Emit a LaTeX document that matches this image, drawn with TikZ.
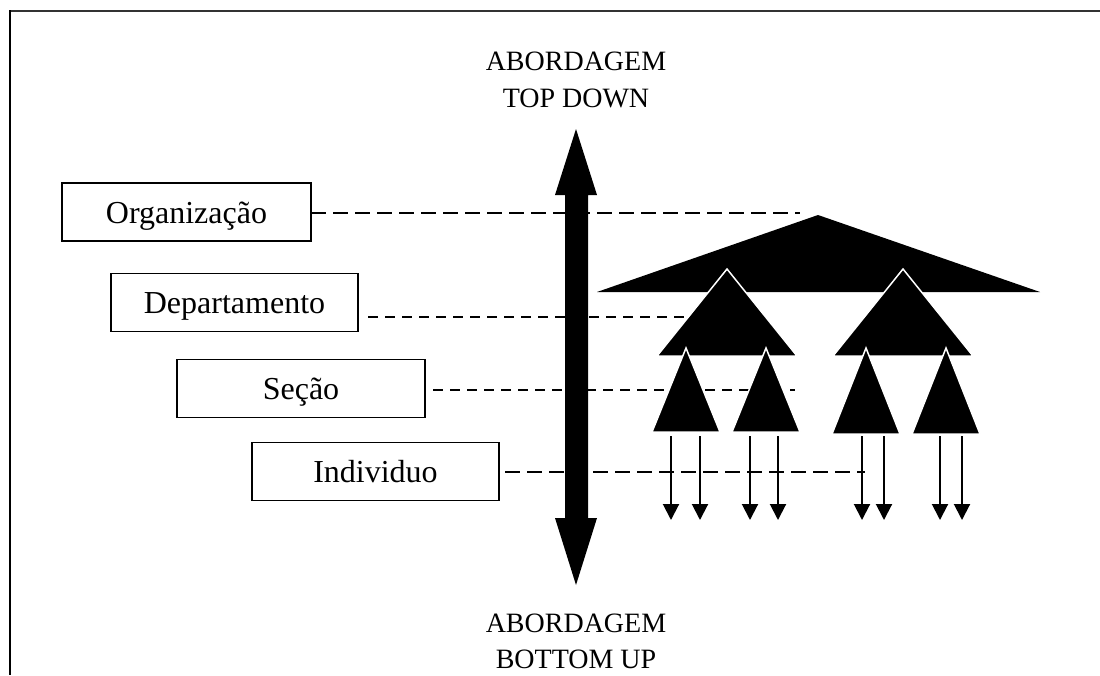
\documentclass[tikz,border=0pt]{standalone}
\usepackage{fontspec}
\setmainfont{Liberation Serif}
\usetikzlibrary{arrows.meta}
\begin{document}
\begin{tikzpicture}[x=1pt,y=-1pt,
  levelbox/.style={draw,line width=1.3pt,minimum width=#1,minimum height=58pt,inner sep=0pt,
    text height=22pt,text depth=0pt,font=\fontsize{32}{38}\selectfont},
  heading/.style={anchor=base,inner sep=0pt,font=\fontsize{28}{34}\selectfont},
  longdash/.style={line width=1.4pt,dash pattern=on 15pt off 7pt},
  shortdash/.style={line width=1.4pt,dash pattern=on 10pt off 7pt},
  blk/.style={fill=black,draw=white,line width=1.5pt,line join=miter},
  downarrow/.style={line width=2pt,-{Triangle[length=16pt,width=16pt]}}]
\useasboundingbox (0,0) rectangle (1100,675);
% frame (top and left edges)
\draw[line width=2pt,black!80] (9,11) -- (1100,11);
\draw[line width=2.5pt] (10,10) -- (10,675);
% headings
\node[heading] (td1) at (576,70) {ABORDAGEM};
\node[heading] (td2) at (576,107) {TOP DOWN};
\node[heading] (bu1) at (576,632) {ABORDAGEM};
\node[heading] (bu2) at (576,668) {BOTTOM UP};
% double arrow
\fill (576,129) -- (597,195) -- (588,195) -- (588,518) -- (597,518) -- (576,585)
  -- (555,518) -- (565,518) -- (565,195) -- (555,195) -- cycle;
% boxes
\node[levelbox=249pt] (org) at (186.5,212) {Organização};
\node[levelbox=247pt] (dep) at (234.5,302.5) {Departamento};
\node[levelbox=248pt] (sec) at (301,388.5) {Seção};
\node[levelbox=247pt] (ind) at (375.5,471.5) {Individuo};
% dashed guide ends
\coordinate (orgA) at (311,213);  \coordinate (orgB) at (800,213);
\coordinate (depA) at (368,317);  \coordinate (depB) at (685,317);
\coordinate (secA) at (433,390);  \coordinate (secB) at (795,390);
\coordinate (indA) at (505,472);  \coordinate (indB) at (865,472);
\draw[longdash] (orgA) -- (orgB);
\draw[shortdash] (depA) -- (depB);
\draw[shortdash] (secA) -- (secB);
\draw[longdash] (indA) -- (indB);
% hierarchy triangles
\fill (818,215) -- (1040,292) -- (597,292) -- cycle;
\filldraw[blk] (727,269) -- (797,356) -- (657,356) -- cycle;
\filldraw[blk] (903,269) -- (973,356) -- (833,356) -- cycle;
\filldraw[blk] (686,348) -- (720,432) -- (652,432) -- cycle;
\filldraw[blk] (766,348) -- (800,432) -- (732,432) -- cycle;
\filldraw[blk] (866,348) -- (900,434) -- (832,434) -- cycle;
\filldraw[blk] (946,348) -- (980,434) -- (912,434) -- cycle;
% individual arrows
\foreach \i/\x in {1/671,2/700,3/750,4/778,5/862,6/884,7/940,8/962}{
  \coordinate (s\i) at (\x,436);
  \coordinate (e\i) at (\x,520);
  \draw[downarrow] (s\i) -- (e\i);
}
\end{tikzpicture}
\end{document}
